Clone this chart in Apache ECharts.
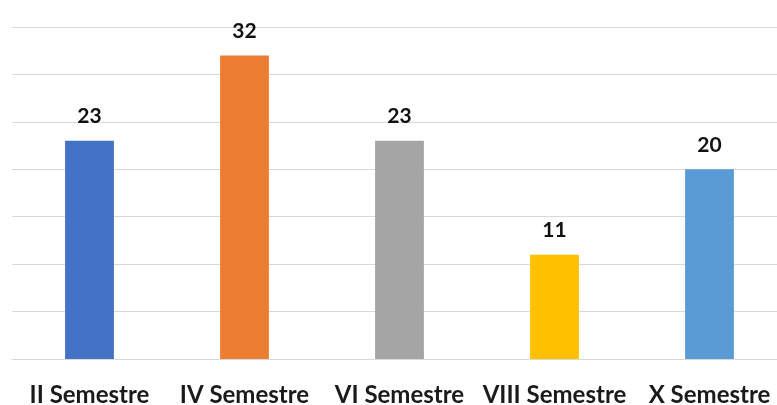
<!DOCTYPE html>
<html>
<head>
<meta charset="utf-8">
<script src="https://cdn.jsdelivr.net/npm/echarts@6/dist/echarts.min.js"></script>
<style>
  html, body { margin: 0; padding: 0; background: #fff; }
  #chart { width: 777px; height: 405px; }
</style>
</head>
<body>
<div id="chart"></div>
<script>
const categories = ['II Semestre', 'IV Semestre', 'VI Semestre', 'VIII Semestre', 'X Semestre']
const values = [23, 32, 23, 11, 20]
const barColors = ['#4472C4', '#ED7D31', '#A5A5A5', '#FFC000', '#5B9BD5']

const chart = echarts.init(document.getElementById('chart'))

const option = {
  animation: false,
  grid: {
    left: 12,
    width: 775,
    top: 27,
    height: 332,
    outerBoundsMode: 'none'
  },
  xAxis: {
    type: 'category',
    data: categories,
    axisTick: { show: false },
    axisLine: { lineStyle: { color: '#d9d9d9', width: 1 } },
    axisLabel: {
      interval: 0,
      hideOverlap: false,
      color: '#1a1a1a',
      fontFamily: 'Lato',
      fontWeight: 'bold',
      fontSize: 24,
      margin: 24
    }
  },
  yAxis: {
    type: 'value',
    min: 0,
    max: 35,
    interval: 5,
    axisLabel: { show: false },
    axisLine: { show: false },
    axisTick: { show: false },
    splitLine: { lineStyle: { color: '#d9d9d9', width: 1 } }
  },
  series: [
    {
      type: 'bar',
      barWidth: '31.5%',
      data: values.map((v, i) => ({
        value: v,
        itemStyle: { color: barColors[i] }
      })),
      label: {
        show: true,
        position: 'top',
        distance: 14,
        color: '#111',
        fontFamily: 'Lato',
        fontWeight: 'bold',
        fontSize: 21
      }
    }
  ]
}

chart.setOption(option)
</script>
</body>
</html>
